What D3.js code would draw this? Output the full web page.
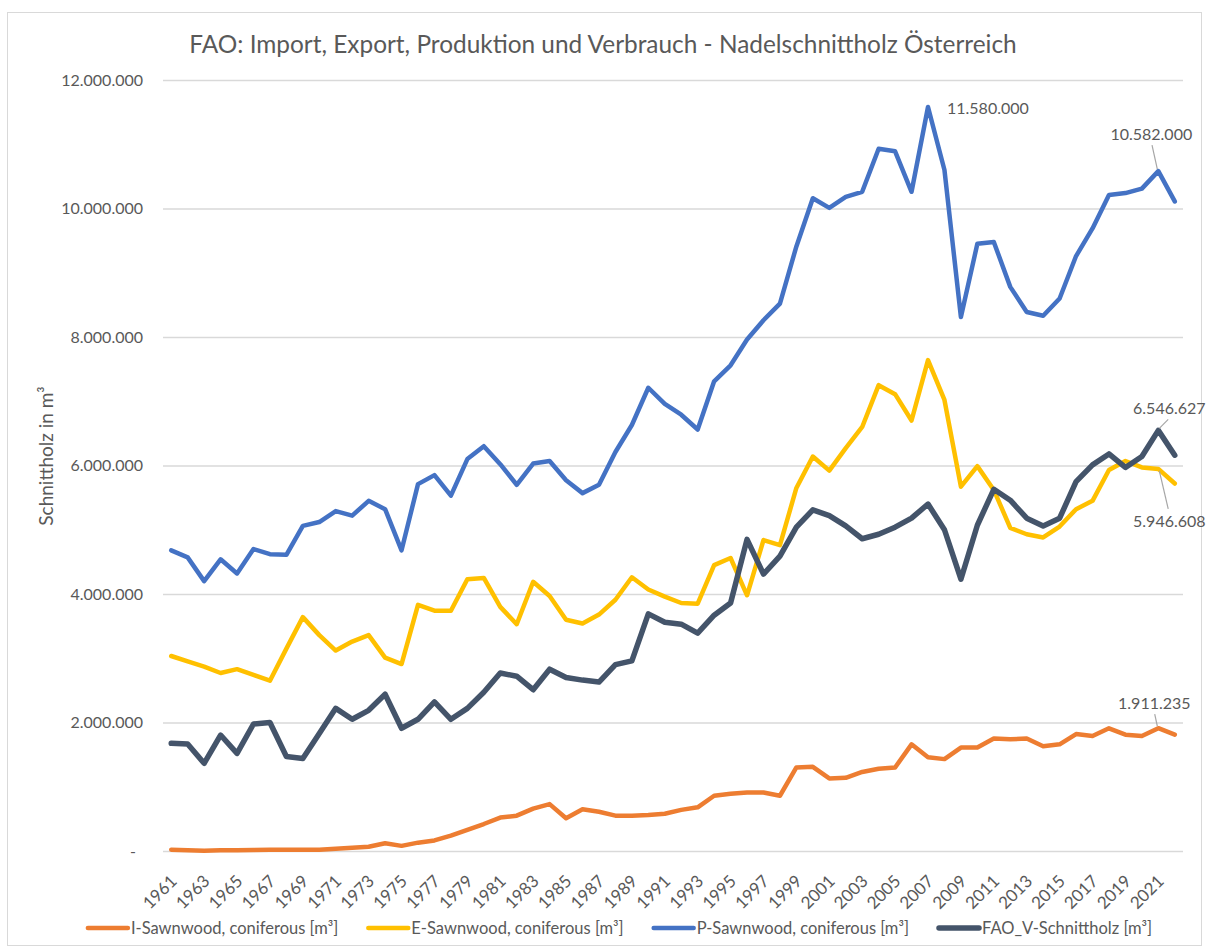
<!DOCTYPE html>
<html>
<head>
<meta charset="utf-8">
<script src="https://cdn.jsdelivr.net/npm/d3@7"></script>
<style>
  body { margin: 0; background: #fff; }
  text { font-family: Lato, "Open Sans", sans-serif; fill: #595959; }
</style>
</head>
<body>
<script>
// categories
var years = [1961,1962,1963,1964,1965,1966,1967,1968,1969,1970,
             1971,1972,1973,1974,1975,1976,1977,1978,1979,1980,
             1981,1982,1983,1984,1985,1986,1987,1988,1989,1990,
             1991,1992,1993,1994,1995,1996,1997,1998,1999,2000,
             2001,2002,2003,2004,2005,2006,2007,2008,2009,2010,
             2011,2012,2013,2014,2015,2016,2017,2018,2019,2020,
             2021,2022];

// I-Sawnwood, coniferous (Import)
var importI = [20000,10000,5000,10000,10000,15000,20000,20000,20000,20000,
               35000,50000,65000,120000,80000,130000,165000,240000,330000,420000,
               520000,550000,660000,730000,510000,650000,610000,550000,550000,560000,
               580000,640000,680000,860000,890000,910000,910000,860000,1300000,1310000,
               1130000,1140000,1230000,1280000,1300000,1660000,1460000,1430000,1610000,1610000,
               1750000,1740000,1750000,1630000,1660000,1820000,1790000,1910000,1810000,1790000,
               1911235,1810000];

// E-Sawnwood, coniferous (Export)
var exportE = [3035000,2950000,2870000,2770000,2830000,2740000,2650000,3150000,3640000,3360000,
               3120000,3260000,3360000,3010000,2910000,3830000,3740000,3740000,4230000,4250000,
               3800000,3530000,4190000,3970000,3600000,3540000,3680000,3910000,4260000,4070000,
               3960000,3860000,3850000,4450000,4560000,3980000,4840000,4760000,5650000,6140000,
               5920000,6270000,6600000,7250000,7110000,6700000,7640000,7020000,5670000,5990000,
               5620000,5030000,4930000,4880000,5050000,5320000,5450000,5930000,6070000,5970000,
               5946608,5720000];

// P-Sawnwood, coniferous (Produktion)
var produktionP = [4680000,4570000,4200000,4540000,4320000,4700000,4620000,4610000,5060000,5120000,
                   5290000,5220000,5450000,5320000,4680000,5710000,5850000,5530000,6100000,6300000,
                   6020000,5700000,6030000,6070000,5770000,5570000,5700000,6210000,6630000,7210000,
                   6960000,6790000,6560000,7310000,7560000,7960000,8260000,8520000,9410000,10160000,
                   10010000,10180000,10260000,10930000,10890000,10260000,11580000,10600000,8310000,9450000,
                   9480000,8780000,8390000,8330000,8600000,9260000,9690000,10210000,10240000,10310000,
                   10582000,10110000];

// FAO_V-Schnittholz (Verbrauch)
var verbrauchV = [1676000,1665000,1365000,1805000,1520000,1977000,2000000,1470000,1440000,1830000,
                  2220000,2050000,2190000,2440000,1910000,2050000,2320000,2050000,2220000,2470000,
                  2770000,2720000,2510000,2830000,2700000,2660000,2630000,2900000,2960000,3690000,
                  3560000,3530000,3390000,3670000,3860000,4850000,4310000,4590000,5040000,5310000,
                  5220000,5060000,4860000,4930000,5040000,5180000,5400000,5000000,4230000,5070000,
                  5630000,5460000,5180000,5060000,5180000,5750000,6010000,6180000,5970000,6140000,
                  6546627,6160000];

var yTicks = [0,2000000,4000000,6000000,8000000,10000000,12000000];
var xTickYears = years.filter(function(d){ return d % 2 === 1; });

var seriesNames = ["I-Sawnwood, coniferous [m³]","E-Sawnwood, coniferous [m³]",
                   "P-Sawnwood, coniferous [m³]","FAO_V-Schnittholz [m³]"];
var seriesColors = ["#ED7D31","#FFC000","#4472C4","#44546A"];
var seriesWidths = [4.5,4.5,4.5,5.5];
var seriesValues = [importI, exportE, produktionP, verbrauchV];

// labelled points: series index, year, label offset from the point
var pointLabels = [
  {s:2, year:2007, dx:19, dy:1, anchor:"start", leader:false},
  {s:2, year:2021, dx:-7, dy:-37, anchor:"middle", leader:true},
  {s:3, year:2021, dx:11, dy:-22, anchor:"middle", leader:true},
  {s:1, year:2021, dx:11, dy:52, anchor:"middle", leader:true},
  {s:0, year:2021, dx:-4, dy:-25, anchor:"middle", leader:true}
];

function drawChart() {
  var width = 1211, height = 952;
  var plotLeft = 163, plotRight = 1183, plotTop = 80, plotBottom = 851;

  var de = d3.formatLocale({decimal:",", thousands:".", grouping:[3], currency:["","€"]});
  var fmt = de.format(",.0f");

  var svg = d3.select("body").append("svg")
      .attr("width", width)
      .attr("height", height);

  // chart frame
  svg.append("rect")
      .attr("x", 7.5).attr("y", 12.5)
      .attr("width", 1194).attr("height", 933)
      .attr("fill", "#fff")
      .attr("stroke", "#d9d9d9");

  var x = d3.scalePoint().domain(years).range([plotLeft, plotRight]).padding(0.5);
  var y = d3.scaleLinear().domain([0, 12000000]).range([plotBottom, plotTop]);

  // title
  svg.append("text")
      .attr("x", 603).attr("y", 53)
      .attr("text-anchor", "middle")
      .style("font-size", "24.4px")
      .text("FAO: Import, Export, Produktion und Verbrauch - Nadelschnittholz Österreich");

  // y axis with gridlines
  var yAxis = svg.append("g")
      .attr("transform", "translate(" + plotLeft + ",0)")
      .call(d3.axisLeft(y)
          .tickValues(yTicks)
          .tickSize(-(plotRight - plotLeft))
          .tickPadding(20)
          .tickFormat(function(d){ return d === 0 ? "-" : fmt(d); }));
  yAxis.select(".domain").remove();
  yAxis.selectAll(".tick line").attr("stroke", "#d9d9d9").attr("stroke-width", 1.3);
  yAxis.selectAll(".tick text")
      .style("font-size", "16px")
      .attr("fill", "#595959")
      .attr("x", function(d){ return d === 0 ? -27 : -20; });

  // y axis title
  svg.append("text")
      .attr("transform", "translate(46,456) rotate(-90)")
      .attr("text-anchor", "middle")
      .attr("dy", "0.35em")
      .style("font-size", "19px")
      .text("Schnittholz in m³");

  // x axis labels
  var xAxis = svg.append("g")
      .attr("transform", "translate(0," + plotBottom + ")")
      .call(d3.axisBottom(x).tickValues(xTickYears).tickSize(0));
  xAxis.select(".domain").remove();
  xAxis.selectAll(".tick text")
      .attr("y", 0).attr("x", 0)
      .attr("dy", "0.35em")
      .attr("transform", "translate(2,27) rotate(-45)")
      .attr("text-anchor", "end")
      .attr("fill", "#595959")
      .style("font-size", "17px");

  // series lines
  var line = d3.line()
      .x(function(d, i){ return x(years[i]); })
      .y(function(d){ return y(d); });

  seriesValues.forEach(function(vals, s){
    svg.append("path")
        .datum(vals)
        .attr("d", line)
        .attr("fill", "none")
        .attr("stroke", seriesColors[s])
        .attr("stroke-width", seriesWidths[s])
        .attr("stroke-linejoin", "round")
        .attr("stroke-linecap", "round");
  });

  // data labels
  pointLabels.forEach(function(p){
    var i = years.indexOf(p.year);
    var v = seriesValues[p.s][i];
    var px = x(p.year), py = y(v);
    var lx = px + p.dx, ly = py + p.dy;
    if (p.leader) {
      var ey = p.dy < 0 ? ly + 11 : ly - 12;
      svg.append("line")
          .attr("x1", px + (lx > px ? 1 : -1)).attr("y1", py + (p.dy < 0 ? -2 : 2))
          .attr("x2", lx - (lx - px) * 0.1).attr("y2", ey)
          .attr("stroke", "#a6a6a6")
          .attr("stroke-width", 1.2);
    }
    svg.append("text")
        .attr("x", lx).attr("y", ly)
        .attr("dy", "0.35em")
        .attr("text-anchor", p.anchor)
        .style("font-size", "16px")
        .text(fmt(v));
  });

  // legend
  var legend = svg.append("g");
  var pos = 0;
  seriesNames.forEach(function(name, s){
    var g = legend.append("g").attr("transform", "translate(" + pos + ",0)");
    g.append("line")
        .attr("x1", 0).attr("x2", 40)
        .attr("y1", 0).attr("y2", 0)
        .attr("stroke", seriesColors[s])
        .attr("stroke-width", seriesWidths[s])
        .attr("stroke-linecap", "round");
    var t = g.append("text")
        .attr("x", 43).attr("y", 0)
        .attr("dy", "0.35em")
        .style("font-size", "16.5px")
        .text(name);
    pos += 43 + t.node().getComputedTextLength() + 30;
  });
  pos -= 30;
  legend.attr("transform", "translate(" + (620 - pos / 2) + ",928)");
}

drawChart();
</script>
</body>
</html>
